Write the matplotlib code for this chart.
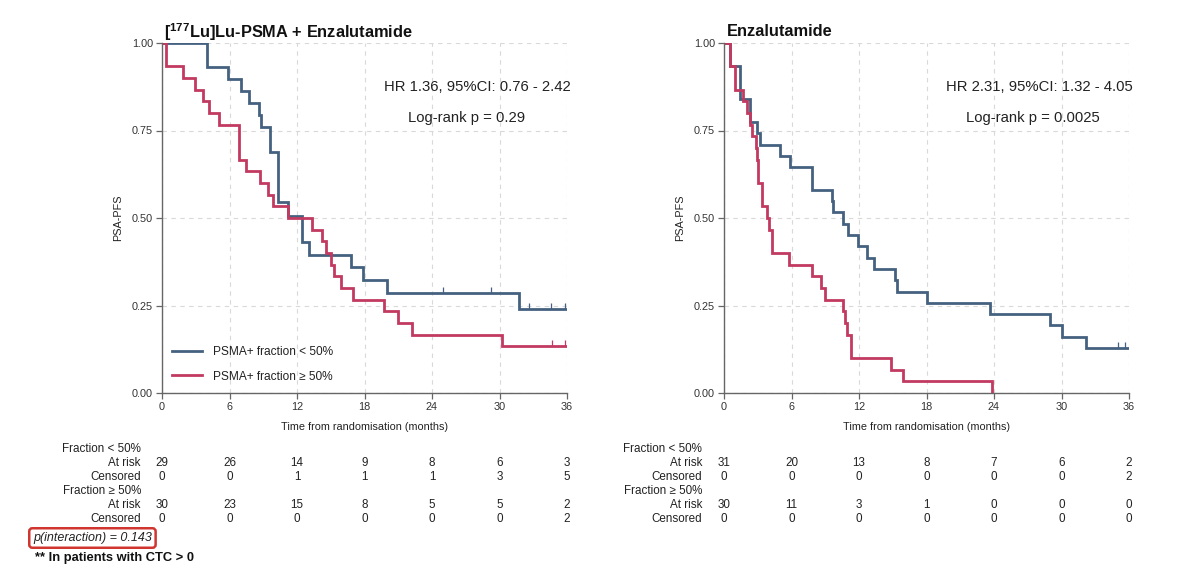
import matplotlib
matplotlib.use("Agg")
import matplotlib.pyplot as plt
import matplotlib.transforms as mtransforms

plt.rcParams['font.family'] = ['Liberation Sans', 'DejaVu Sans']
plt.rcParams['mathtext.fontset'] = 'custom'
plt.rcParams['mathtext.rm'] = 'Liberation Sans'
plt.rcParams['mathtext.bf'] = 'Liberation Sans:bold'

# ---------------- data ----------------
months = [0, 6, 12, 18, 24, 30, 36]
yticks = [0.0, 0.25, 0.5, 0.75, 1.0]

# Left panel: [177Lu]Lu-PSMA + Enzalutamide
lb_t = [4.0, 5.9, 7.0, 7.7, 8.6, 8.8, 9.56, 10.3, 11.2, 12.4, 13.1, 16.8, 17.9, 20.0, 31.7]
lb_s = [0.931, 0.897, 0.862, 0.828, 0.793, 0.759, 0.690, 0.545, 0.505, 0.432, 0.394, 0.361, 0.323, 0.285, 0.239]
lb_end = 36
lb_cens_t = [25.0, 29.2, 32.6, 34.6, 35.8]
lb_cens_s = [0.285, 0.285, 0.239, 0.239, 0.239]

lr_t = [0.36, 1.9, 2.9, 3.6, 4.2, 5.1, 6.8, 7.5, 8.7, 9.4, 9.9, 11.2, 13.3, 14.2, 14.6, 15.0,
        15.3, 15.95, 17.0, 19.7, 21.0, 22.2, 30.2]
lr_s = [0.933, 0.9, 0.867, 0.833, 0.8, 0.767, 0.667, 0.633, 0.6, 0.567, 0.533, 0.5, 0.467, 0.433,
        0.4, 0.367, 0.333, 0.3, 0.267, 0.233, 0.2, 0.167, 0.133]
lr_end = 36
lr_cens_t = [34.7, 35.85]
lr_cens_s = [0.133, 0.133]

# Right panel: Enzalutamide
rb_t = [0.5, 1.4, 2.3, 2.95, 3.2, 5.0, 5.9, 7.8, 9.57, 9.7, 10.6, 11.05, 11.94, 12.7, 13.3,
        15.2, 15.4, 18.0, 23.6, 29.0, 30.0, 32.2]
rb_s = [0.935, 0.839, 0.774, 0.742, 0.710, 0.677, 0.645, 0.581, 0.548, 0.516, 0.484, 0.452,
        0.419, 0.387, 0.355, 0.323, 0.290, 0.258, 0.226, 0.194, 0.161, 0.129]
rb_end = 36
rb_cens_t = [35.0, 35.6]
rb_cens_s = [0.129, 0.129]

rr_t = [0.5, 1.0, 1.7, 2.0, 2.3, 2.5, 2.8, 2.9, 3.05, 3.35, 3.8, 4.0, 4.25, 5.8, 7.8, 8.6, 9.0,
        10.55, 10.75, 10.96, 11.26, 14.8, 15.9, 23.8]
rr_s = [0.933, 0.867, 0.833, 0.8, 0.767, 0.733, 0.7, 0.667, 0.6, 0.533, 0.5, 0.467, 0.4, 0.367,
        0.333, 0.3, 0.267, 0.233, 0.2, 0.167, 0.1, 0.067, 0.033, 0.0]
rr_end = 23.8
rr_cens_t = []
rr_cens_s = []

# risk tables
l_risk_lt = [29, 26, 14, 9, 8, 6, 3]
l_cens_lt = [0, 0, 1, 1, 1, 3, 5]
l_risk_ge = [30, 23, 15, 8, 5, 5, 2]
l_cens_ge = [0, 0, 0, 0, 0, 0, 2]
r_risk_lt = [31, 20, 13, 8, 7, 6, 2]
r_cens_lt = [0, 0, 0, 0, 0, 0, 2]
r_risk_ge = [30, 11, 3, 1, 0, 0, 0]
r_cens_ge = [0, 0, 0, 0, 0, 0, 0]

left_title = r'[$^{\mathbf{177}}$Lu]Lu-PSMA + Enzalutamide'
right_title = 'Enzalutamide'
left_hr = 'HR 1.36, 95%CI: 0.76 - 2.42'
left_lr = 'Log-rank p = 0.29'
right_hr = 'HR 2.31, 95%CI: 1.32 - 4.05'
right_lr = 'Log-rank p = 0.0025'
label_lt = 'PSMA+ fraction < 50%'
label_ge = 'PSMA+ fraction \u2265 50%'

BLUE = '#456180'
RED = '#c23a60'

W, H = 1200, 584
fig = plt.figure(figsize=(W / 100, H / 100), dpi=100)


def fx(px):
    return px / W


def fy(py):
    return 1 - py / H


def km(ax, t, s, end, ct, cs, color, label):
    xs = [0] + list(t) + [end]
    ys = [1.0] + list(s) + [s[-1]]
    ax.step(xs, ys, where='post', color=color, lw=2.0, label=label, solid_joinstyle='miter')
    if ct:
        ax.vlines(ct, cs, [v + 0.018 for v in cs], color=color, lw=0.9)


def style(ax):
    ax.set_xlim(0, 36)
    ax.set_ylim(0, 1.0)
    ax.set_xticks(months)
    ax.set_yticks(yticks)
    ax.set_yticklabels(['%.2f' % v for v in yticks])
    for sp in ['top', 'right']:
        ax.spines[sp].set_visible(False)
    for sp in ['left', 'bottom']:
        ax.spines[sp].set_color('#666666')
        ax.spines[sp].set_linewidth(1.0)
    ax.tick_params(axis='both', direction='out', length=4, width=0.9, color='#666666',
                   labelsize=7.8, labelcolor='#333333', pad=2.5)
    ax.grid(True, ls=(0, (4, 4)), color='#d9d9d9', lw=0.8)
    ax.set_axisbelow(True)
    ax.patch.set_alpha(0)
    for sp in ax.spines.values():
        sp.set_zorder(3)


def table(ax, lab_px, r1, c1, r2, c2):
    tr = mtransforms.blended_transform_factory(ax.transData, fig.transFigure)
    rows = [('Fraction < 50%', None, 449.5),
            ('At risk', r1, 463.5),
            ('Censored', c1, 477.5),
            ('Fraction \u2265 50%', None, 491.5),
            ('At risk', r2, 505.5),
            ('Censored', c2, 519.5)]
    for lab, vals, py in rows:
        fig.text(fx(lab_px), fy(py), lab, ha='right', va='center', fontsize=8.4, color='#222222')
        if vals is not None:
            for m, v in zip(months, vals):
                ax.text(m, fy(py), str(v), transform=tr, ha='center', va='center',
                        fontsize=8.4, color='#222222')


ax1 = fig.add_axes([fx(162), fy(393), fx(405), 350 / H])
ax2 = fig.add_axes([fx(724), fy(393), fx(405), 350 / H])

km(ax1, lb_t, lb_s, lb_end, lb_cens_t, lb_cens_s, BLUE, label_lt)
km(ax1, lr_t, lr_s, lr_end, lr_cens_t, lr_cens_s, RED, label_ge)
km(ax2, rb_t, rb_s, rb_end, rb_cens_t, rb_cens_s, BLUE, label_lt)
km(ax2, rr_t, rr_s, rr_end, rr_cens_t, rr_cens_s, RED, label_ge)
style(ax1)
style(ax2)

# titles
fig.text(fx(164), fy(32), left_title, ha='left', va='center', fontsize=11.8, fontweight='bold',
         color='#111111')
fig.text(fx(727), fy(32), right_title, ha='left', va='center', fontsize=11.8, fontweight='bold',
         color='#111111')

# annotations
fig.text(fx(477), fy(87), left_hr, ha='center', va='center', fontsize=10.7, color='#222222')
fig.text(fx(467), fy(118), left_lr, ha='center', va='center', fontsize=10.7, color='#222222')
fig.text(fx(1039), fy(87), right_hr, ha='center', va='center', fontsize=10.7, color='#222222')
fig.text(fx(1033), fy(118), right_lr, ha='center', va='center', fontsize=10.7, color='#222222')

# axis labels
for cx, lx in [(364.5, 118), (926.5, 680)]:
    fig.text(fx(cx), fy(427), 'Time from randomisation (months)', ha='center', va='center',
             fontsize=7.8, color='#222222')
    fig.text(fx(lx), fy(218), 'PSA-PFS', ha='center', va='center', rotation=90,
             fontsize=7.8, color='#222222')

# legend
leg = ax1.legend(loc='upper left', bbox_to_anchor=(fx(172), fy(346)),
                 bbox_transform=fig.transFigure, frameon=False, fontsize=8.6,
                 handlelength=2.5, handletextpad=0.95, labelspacing=1.05,
                 borderpad=0, borderaxespad=0)
for txt in leg.get_texts():
    txt.set_color('#222222')

# risk tables
table(ax1, 141, l_risk_lt, l_cens_lt, l_risk_ge, l_cens_ge)
table(ax2, 702, r_risk_lt, r_cens_lt, r_risk_ge, r_cens_ge)

# footnotes
fig.text(fx(33), fy(538), 'p(interaction) = 0.143', ha='left', va='center', fontsize=9.0,
         style='italic', color='#222222',
         bbox=dict(boxstyle='round,pad=0.3,rounding_size=0.25', fc='white', ec='#d0352f', lw=1.8))
fig.text(fx(35), fy(558), '** In patients with CTC > 0', ha='left', va='center', fontsize=9.3,
         fontweight='bold', color='#111111')

fig.savefig('out.png', dpi=100, facecolor='white')
